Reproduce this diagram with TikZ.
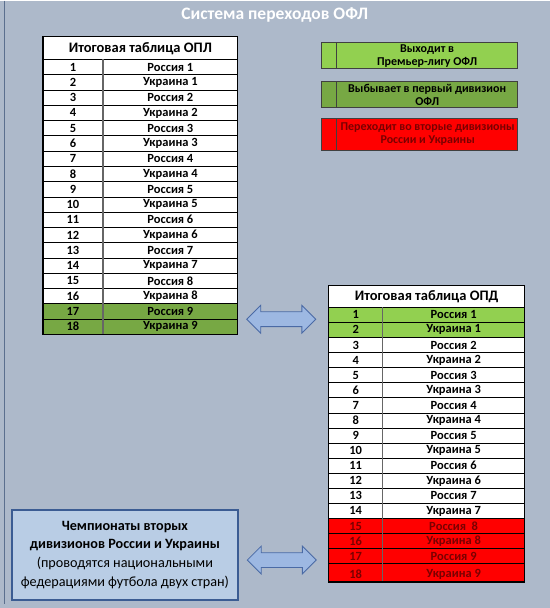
\documentclass[tikz,border=0pt]{standalone}
\usepackage{fontspec}
\setmainfont{Carlito}
\usetikzlibrary{shapes.arrows}
\definecolor{bgblue}{HTML}{ADB9CA}
\definecolor{edgeblue}{HTML}{5B6F8E}
\definecolor{upgreen}{HTML}{92D050}
\definecolor{downgreen}{HTML}{77A844}
\definecolor{outred}{HTML}{FF0000}
\definecolor{redtext}{HTML}{7A0000}
\definecolor{boxfill}{HTML}{B9CDE5}
\definecolor{boxline}{HTML}{3B5C93}
\definecolor{arrowfill}{HTML}{9DB8E2}
\definecolor{arrowline}{HTML}{4A6AA5}
\tikzset{
  cell/.style={font=\bfseries\fontsize{12.5}{13}\selectfont,inner sep=0pt},
  headcell/.style={font=\bfseries\fontsize{14.5}{15}\selectfont,inner sep=0pt},
  legendtext/.style={font=\bfseries\fontsize{12}{13}\selectfont,align=center,inner sep=0pt},
  rowline/.style={black,line width=0.6pt},
  colline/.style={black!60,line width=1.2pt},
  frame/.style={black,line width=1.2pt},
  swaparrow/.style={double arrow,draw=arrowline,fill=arrowfill,line width=0.8pt,
    minimum height=69pt,inner sep=7pt,double arrow head extend=6.5pt}
}
\begin{document}
\begin{tikzpicture}[x=1pt,y=-1pt]
  \fill[bgblue] (0,0) rectangle (550,608);
  \draw[edgeblue,line width=1pt] (5,0) -- (5,604);
  \node[font=\bfseries\fontsize{17.5}{19}\selectfont,text=white] (title) at (275,15) {Система переходов ОФЛ};

  % OPL table
  \fill[white] (43,36) rectangle (238,334);
  \fill[downgreen] (43,303.5) rectangle (238,334);
  \node[headcell] (opl-head) at (140.5,48) {Итоговая таблица ОПЛ};
  \foreach \r in {0,...,17}
    \draw[rowline] (43,{59+\r*15.28}) -- (238,{59+\r*15.28});
  \draw[colline] (103,59) -- (103,334);
  \draw[frame] (43,36) rectangle (238,334);
  \foreach \i/\team in {1/Россия 1,2/Украина 1,3/Россия 2,4/Украина 2,5/Россия 3,6/Украина 3,
      7/Россия 4,8/Украина 4,9/Россия 5,10/Украина 5,11/Россия 6,12/Украина 6,
      13/Россия 7,14/Украина 7,15/Россия 8,16/Украина 8,17/Россия 9,18/Украина 9} {
    \node[cell] (opl-num-\i) at (73,{59+(\i-0.5)*15.28}) {\i};
    \node[cell] (opl-team-\i) at (170.5,{59+(\i-0.5)*15.28}) {\team};
  }

  % legend
  \fill[upgreen] (322,42) rectangle (518,68);
  \fill[downgreen] (322,81) rectangle (518,107);
  \fill[outred] (322,118) rectangle (518,150);
  \foreach \t/\b in {42/68,81/107,118/150} {
    \draw[black!75,line width=1pt] (322,\t) rectangle (518,\b);
    \draw[black!75,line width=1pt] (337,\t) -- (337,\b);
  }
  \node[legendtext] (leg-up) at (427.5,56) {Выходит в\\Премьер-лигу ОФЛ};
  \node[legendtext] (leg-down) at (427.5,94.5) {Выбывает в первый дивизион\\ОФЛ};
  \node[legendtext,text=redtext] (leg-out) at (428,134) {Переходит во вторые дивизионы\\России и Украины};

  % OPD table
  \fill[white] (329,285) rectangle (525,582);
  \fill[upgreen] (329,307) rectangle (525,337.2);
  \fill[outred] (329,518.4) rectangle (525,582);
  \node[headcell] (opd-head) at (427,296.5) {Итоговая таблица ОПД};
  \foreach \r in {0,...,17}
    \draw[rowline] (329,{307+\r*15.1}) -- (525,{307+\r*15.1});
  \draw[colline] (383,307) -- (383,582);
  \draw[frame] (329,285) rectangle (525,582);
  \foreach \i/\team in {1/Россия 1,2/Украина 1,3/Россия 2,4/Украина 2,5/Россия 3,6/Украина 3,
      7/Россия 4,8/Украина 4,9/Россия 5,10/Украина 5,11/Россия 6,12/Украина 6,
      13/Россия 7,14/Украина 7} {
    \node[cell] (opd-num-\i) at (356,{307+(\i-0.5)*15.1}) {\i};
    \node[cell] (opd-team-\i) at (454,{307+(\i-0.5)*15.1}) {\team};
  }
  \foreach \i/\team in {15/Россия\ \ 8,16/Украина 8,17/Россия 9} {
    \node[cell,text=redtext] (opd-num-\i) at (356,{307+(\i-0.5)*15.1}) {\i};
    \node[cell,text=redtext] (opd-team-\i) at (454,{307+(\i-0.5)*15.1}) {\team};
  }
  \node[cell,text=redtext] (opd-num-18) at (356,574) {18};
  \node[cell,text=redtext] (opd-team-18) at (454,574) {Украина 9};

  % second divisions
  \node[draw=boxline,fill=boxfill,line width=2pt,minimum width=226pt,minimum height=90pt,
    inner sep=2pt,align=center,font=\fontsize{14.2}{19}\selectfont] (div2) at (125,555)
    {\textbf{Чемпионаты вторых}\\\textbf{дивизионов России и Украины}\\(проводятся национальными\\федерациями футбола двух стран)};

  \node[swaparrow] (opd-arrow) at (281.5,319) {};
  \node[swaparrow] (div2-arrow) at (282,560) {};
\end{tikzpicture}
\end{document}
